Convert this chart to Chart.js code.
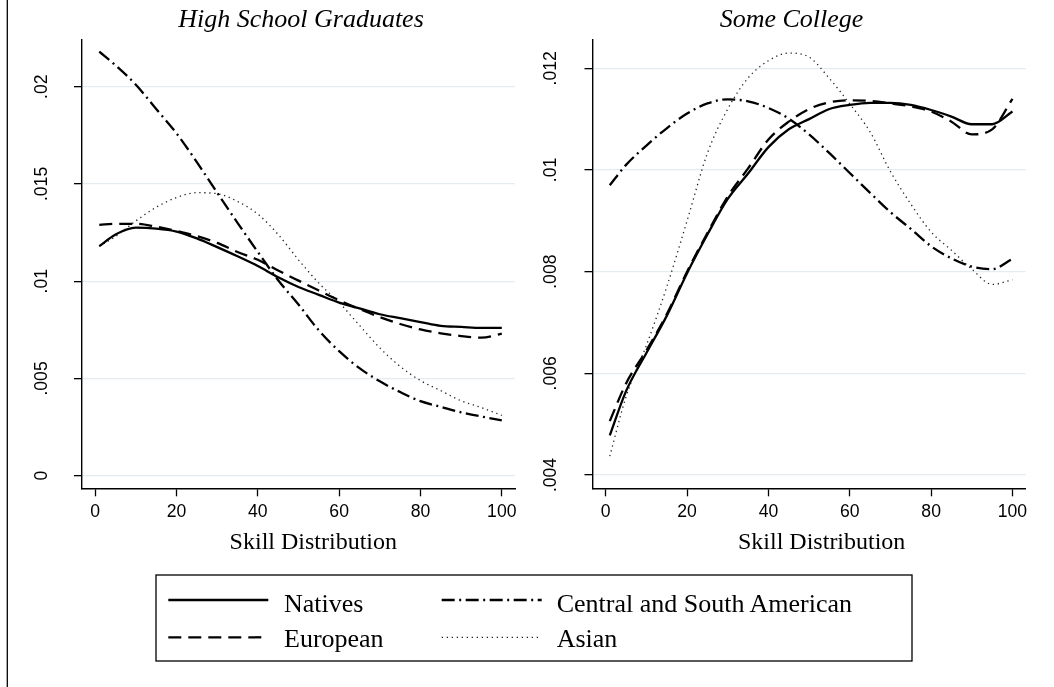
<!DOCTYPE html>
<html>
<head>
<meta charset="utf-8">
<title>Skill distribution by origin</title>
<script src="https://cdn.jsdelivr.net/npm/chart.js@4/dist/chart.umd.min.js"></script>
<style>
  html, body { margin: 0; padding: 0; background: #fff; }
  #wrap { position: relative; width: 1054px; height: 687px; overflow: hidden; background: #fff; }
  #wrap canvas { position: absolute; top: 0; }
  #hs { left: 0; }
  #sc { left: 530px; }
  #overlay { position: absolute; left: 0; top: 0; }
</style>
</head>
<body>
<div id="wrap">
  <canvas id="hs" width="530" height="530"></canvas>
  <canvas id="sc" width="524" height="530"></canvas>
  <svg id="overlay" width="1054" height="687" xmlns="http://www.w3.org/2000/svg"></svg>
</div>
<script>
// Percentile of the skill distribution
const skill = [1, 5, 10, 15, 20, 25, 30, 35, 40, 45, 50, 55, 60, 65, 70, 75, 80, 85, 90, 95, 100];

// Density, high school graduates
const hsNatives  = [.0118, .0124, .01275, .0127, .01255, .0122, .01175, .01128, .01078, .0102, .0097, .0093, .0089, .0086, .0083, .0081, .0079, .0077, .00765, .0076, .0076];
const hsEuropean = [.0129, .01295, .01295, .0128, .01258, .01232, .01197, .0115, .0111, .01055, .01003, .00952, .00902, .00857, .00815, .0078, .00752, .00732, .00718, .0071, .0073];
const hsCentralSouthAmerican = [.0218, .0211, .0201, .01885, .0176, .01612, .01455, .0130, .0115, .01005, .0088, .00747, .0064, .00553, .00485, .0043, .00383, .00354, .00326, .00304, .00285];
const hsAsian    = [.0118, .0123, .0131, .0138, .0143, .01455, .0145, .0141, .01345, .0124, .0111, .0099, .0089, .00773, .00657, .00562, .00489, .00437, .00385, .0035, .0031];

// Density, some college
const scNatives  = [.00478, .00565, .0064, .00713, .00797, .00873, .00943, .00993, .01045, .0108, .0110, .0112, .01128, .01132, .01132, .01128, .01118, .01105, .0109, .0109, .01115];
const scEuropean = [.00506, .0058, .00645, .00716, .0080, .00876, .00948, .01003, .0106, .01095, .0112, .01133, .01137, .01136, .01131, .01125, .01115, .01095, .0107, .0108, .0114];
const scCentralSouthAmerican = [.0097, .0101, .01048, .01082, .01111, .01131, .01139, .01135, .01122, .01101, .0107, .01033, .00994, .00955, .00917, .00884, .0085, .00826, .0081, .00805, .00825];
const scAsian    = [.00437, .00554, .00655, .0077, .0090, .01033, .0112, .01181, .01215, .0123, .01222, .0118, .0113, .01075, .00997, .00933, .00878, .00842, .00805, .00775, .00784];

// Axis ticks and their labels
const xTicks = [0, 20, 40, 60, 80, 100];
const xTickLabels = ['0', '20', '40', '60', '80', '100'];
const hsYTicks = [0, .005, .01, .015, .02];
const hsYTickLabels = ['0', '.005', '.01', '.015', '.02'];
const scYTicks = [.004, .006, .008, .01, .012];
const scYTickLabels = ['.004', '.006', '.008', '.01', '.012'];

// Series names (legend order: down the first column, then the second)
const seriesNames = ['Natives', 'European', 'Central and South American', 'Asian'];

// Line styles per series
const styles = [
  { color: '#000', width: 2.3, dash: [] },
  { color: '#000', width: 2.3, dash: [13, 7] },
  { color: '#000', width: 2.3, dash: [13, 4.5, 2, 4.5] },
  { color: '#222', width: 1.3, dash: [1.3, 3.7] }
];

const X_MIN = -3.25, X_MAX = 103.25;
const TICK_FONT = { family: 'Liberation Sans, Arial, sans-serif', size: 17.6 };

function panel(id, values, yTicks, yLabels, yMin, yMax, geom) {
  const datasets = values.map((vals, k) => ({
    label: seriesNames[k],
    data: skill.map((x, i) => ({ x: x, y: vals[i] })),
    borderColor: styles[k].color,
    borderWidth: styles[k].width,
    borderDash: styles[k].dash,
    borderJoinStyle: 'round',
    pointRadius: 0,
    fill: false,
    cubicInterpolationMode: 'monotone'
  }));
  return new Chart(document.getElementById(id), {
    type: 'line',
    data: { datasets: datasets },
    options: {
      responsive: false,
      animation: false,
      devicePixelRatio: 1,
      events: [],
      layout: { padding: { left: 0, right: geom.padRight, top: 40, bottom: 0 } },
      plugins: { legend: { display: false }, tooltip: { enabled: false }, title: { display: false } },
      scales: {
        x: {
          type: 'linear',
          min: X_MIN, max: X_MAX,
          afterBuildTicks: s => { s.ticks = xTicks.map(v => ({ value: v })); },
          afterFit: s => { s.height = geom.xAxisH; },
          grid: { drawOnChartArea: false, drawTicks: true, tickLength: 8, tickColor: '#000', tickWidth: 1.3 },
          border: { display: true, color: '#000', width: 1.4 },
          ticks: {
            font: TICK_FONT, color: '#000', padding: 5,
            minRotation: 0, maxRotation: 0, autoSkip: false,
            callback: (v, i) => xTickLabels[i]
          }
        },
        y: {
          type: 'linear',
          min: yMin, max: yMax,
          afterBuildTicks: s => { s.ticks = yTicks.map(v => ({ value: v })); },
          afterFit: s => { s.width = geom.yAxisW; },
          grid: { color: '#e4ecef', lineWidth: 1.3, drawTicks: true, tickLength: 8, tickColor: '#000', tickWidth: 1.3 },
          border: { display: true, color: '#000', width: 1.4 },
          ticks: {
            font: TICK_FONT, color: '#000', padding: geom.yPad,
            minRotation: 90, maxRotation: 90, crossAlign: 'center', autoSkip: false,
            callback: (v, i) => yLabels[i]
          }
        }
      }
    }
  });
}

panel('hs', [hsNatives, hsEuropean, hsCentralSouthAmerican, hsAsian],
      hsYTicks, hsYTickLabels, -0.000648, 0.0224,
      { padRight: 15, xAxisH: 41.7, yAxisW: 82, yPad: 14.5 });

panel('sc', [scNatives, scEuropean, scCentralSouthAmerican, scAsian],
      scYTicks, scYTickLabels, 0.003738, 0.012557,
      { padRight: 28.3, xAxisH: 41.7, yAxisW: 62.5, yPad: 16.5 });

// Titles, axis titles, frame line and the shared legend
const NS = 'http://www.w3.org/2000/svg';
const svg = document.getElementById('overlay');
function el(tag, attrs, text) {
  const n = document.createElementNS(NS, tag);
  for (const k in attrs) n.setAttribute(k, attrs[k]);
  if (text !== undefined) n.textContent = text;
  svg.appendChild(n);
  return n;
}
const SERIF = 'Liberation Serif, Times New Roman, serif';

el('line', { x1: 7.3, y1: 0, x2: 7.3, y2: 687, stroke: '#000', 'stroke-width': 1.3 });

el('text', { x: 301, y: 27, 'text-anchor': 'middle', 'font-family': SERIF, 'font-size': 26, 'font-style': 'italic', fill: '#000' }, 'High School Graduates');
el('text', { x: 791.5, y: 27, 'text-anchor': 'middle', 'font-family': SERIF, 'font-size': 26, 'font-style': 'italic', fill: '#000' }, 'Some College');

el('text', { x: 313.3, y: 549, 'text-anchor': 'middle', 'font-family': SERIF, 'font-size': 24, fill: '#000' }, 'Skill Distribution');
el('text', { x: 821.7, y: 549, 'text-anchor': 'middle', 'font-family': SERIF, 'font-size': 24, fill: '#000' }, 'Skill Distribution');

el('rect', { x: 156, y: 575, width: 756, height: 86, fill: '#fff', stroke: '#000', 'stroke-width': 1.3 });
const keyX = [168.3, 441.7], textX = [284, 556.7];
const keyY = [600, 637.3], textY = [611.7, 647];
seriesNames.forEach((name, k) => {
  const col = Math.floor(k / 2), row = k % 2;
  el('line', {
    x1: keyX[col], y1: keyY[row], x2: keyX[col] + 100, y2: keyY[row],
    stroke: styles[k].color, 'stroke-width': styles[k].width,
    'stroke-dasharray': styles[k].dash.length ? styles[k].dash.join(' ') : 'none'
  });
  el('text', { x: textX[col], y: textY[row], 'font-family': SERIF, 'font-size': 26, fill: '#000' }, name);
});
</script>
</body>
</html>
